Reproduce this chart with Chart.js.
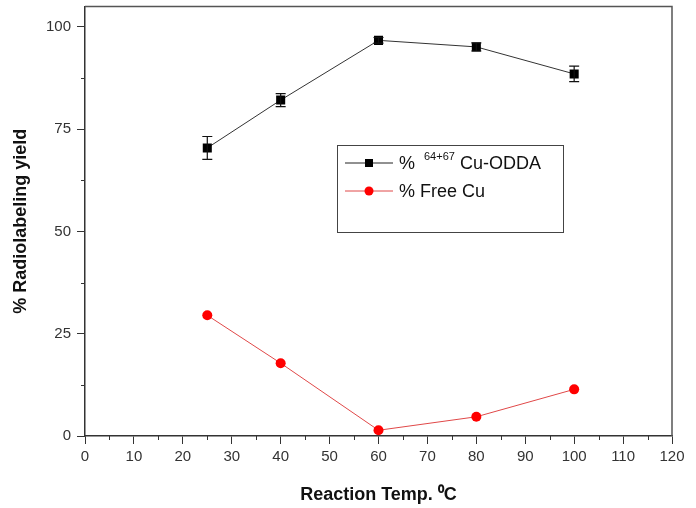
<!DOCTYPE html>
<html>
<head>
<meta charset="utf-8">
<script src="https://cdn.jsdelivr.net/npm/chart.js@4"></script>
<style>
  body { margin: 0; background: #fff; }
  canvas { display: block; }
</style>
</head>
<body>
<canvas id="chart" width="696" height="508"></canvas>
<script>
// reaction temperature (°C)
const temps = [25, 40, 60, 80, 100];
// % 64+67Cu-ODDA and its error bars
const cuOdda = [70.4, 82.1, 96.7, 95.1, 88.5];
const cuOddaErr = [2.8, 1.6, 0.7, 1.0, 1.9];
// % free Cu
const freeCu = [29.5, 17.8, 1.4, 4.7, 11.4];

const xTicks = [0, 10, 20, 30, 40, 50, 60, 70, 80, 90, 100, 110, 120];
const xMinor = [5, 15, 25, 35, 45, 55, 65, 75, 85, 95, 105, 115];
const yTicks = [0, 25, 50, 75, 100];
const yMinor = [12.5, 37.5, 62.5, 87.5];

const FONT = "'Liberation Sans', Arial, sans-serif";

const toPoints = (ys) => temps.map((t, i) => ({ x: t, y: ys[i] }));

// error bars for the Cu-ODDA series
const errorBars = {
  id: "errorBars",
  afterDatasetsDraw(chart) {
    const { ctx, scales } = chart;
    const meta = chart.getDatasetMeta(0);
    ctx.save();
    ctx.strokeStyle = "#111";
    ctx.lineWidth = 1.2;
    meta.data.forEach((pt, i) => {
      const x = pt.x;
      const yTop = scales.y.getPixelForValue(cuOdda[i] + cuOddaErr[i]);
      const yBot = scales.y.getPixelForValue(cuOdda[i] - cuOddaErr[i]);
      ctx.beginPath();
      ctx.moveTo(x, yTop); ctx.lineTo(x, yBot);
      ctx.moveTo(x - 5, yTop); ctx.lineTo(x + 5, yTop);
      ctx.moveTo(x - 5, yBot); ctx.lineTo(x + 5, yBot);
      ctx.stroke();
    });
    ctx.restore();
  },
};

// frame, minor ticks and the boxed legend
const extras = {
  id: "extras",
  afterDraw(chart) {
    const { ctx, chartArea: a, scales } = chart;
    ctx.save();
    ctx.strokeStyle = "#555";
    ctx.lineWidth = 1.5;
    ctx.beginPath();
    ctx.moveTo(a.left, a.top); ctx.lineTo(a.right, a.top); ctx.lineTo(a.right, a.bottom);
    ctx.stroke();

    ctx.strokeStyle = "#333";
    ctx.lineWidth = 1;
    ctx.beginPath();
    xMinor.forEach((v) => {
      const x = Math.round(scales.x.getPixelForValue(v)) + 0.5;
      ctx.moveTo(x, a.bottom); ctx.lineTo(x, a.bottom + 4);
    });
    yMinor.forEach((v) => {
      const y = Math.round(scales.y.getPixelForValue(v)) + 0.5;
      ctx.moveTo(a.left - 4, y); ctx.lineTo(a.left, y);
    });
    ctx.stroke();

    // legend
    ctx.strokeStyle = "#444";
    ctx.lineWidth = 1;
    ctx.strokeRect(337.5, 145.5, 226, 87);

    const rows = [
      { y: 163, color: "#222", marker: "rect" },
      { y: 191, color: "#e04848", marker: "circle" },
    ];
    rows.forEach((r) => {
      ctx.strokeStyle = r.color;
      ctx.beginPath();
      ctx.moveTo(345, r.y); ctx.lineTo(393, r.y);
      ctx.stroke();
      ctx.fillStyle = r.marker === "rect" ? "#000" : "#ff0000";
      if (r.marker === "rect") {
        ctx.fillRect(365, r.y - 4, 8, 8);
      } else {
        ctx.beginPath();
        ctx.arc(369, r.y, 4.5, 0, Math.PI * 2);
        ctx.fill();
      }
    });

    ctx.fillStyle = "#111";
    ctx.textBaseline = "middle";
    ctx.textAlign = "left";
    ctx.font = "18px " + FONT;
    ctx.fillText("%", 399, 164);
    ctx.fillText("Cu-ODDA", 460, 164);
    ctx.fillText("% Free Cu", 399, 192);
    ctx.font = "11px " + FONT;
    ctx.fillText("64+67", 424, 157);
    ctx.restore();
  },
};

new Chart(document.getElementById("chart"), {
  type: "scatter",
  data: {
    datasets: [
      {
        label: "% 64+67Cu-ODDA",
        data: toPoints(cuOdda),
        showLine: true,
        borderColor: "#333",
        borderWidth: 1,
        pointStyle: "rect",
        pointRadius: 6.4,
        pointBackgroundColor: "#000",
        pointBorderColor: "#000",
        pointBorderWidth: 0,
      },
      {
        label: "% Free Cu",
        data: toPoints(freeCu),
        showLine: true,
        borderColor: "#e04848",
        borderWidth: 1,
        pointStyle: "circle",
        pointRadius: 5,
        pointBackgroundColor: "#ff0000",
        pointBorderColor: "#ff0000",
        pointBorderWidth: 0,
      },
    ],
  },
  options: {
    responsive: false,
    animation: false,
    layout: { padding: { left: 0, top: 4, right: 24, bottom: 0 } },
    plugins: {
      legend: { display: false },
      tooltip: { enabled: false },
    },
    scales: {
      x: {
        type: "linear",
        min: 0,
        max: 120,
        afterFit: (s) => { s.height = 72; },
        afterBuildTicks: (s) => { s.ticks = xTicks.map((v) => ({ value: v })); },
        border: { color: "#333", width: 1.5 },
        grid: { drawOnChartArea: false, tickLength: 8, color: "#333" },
        ticks: { color: "#333", padding: 4, maxRotation: 0, font: { size: 15, family: FONT } },
        title: {
          display: true,
          text: "Reaction Temp. \u2070C",
          color: "#111",
          padding: { top: 0, bottom: 2 },
          font: { size: 18, weight: "bold", family: FONT },
        },
      },
      y: {
        min: 0,
        max: 105,
        afterFit: (s) => { s.width = 85; s.paddingTop = 0; s.paddingBottom = 0; },
        afterBuildTicks: (s) => { s.ticks = yTicks.map((v) => ({ value: v })); },
        border: { color: "#333", width: 1.5 },
        grid: { drawOnChartArea: false, tickLength: 8, color: "#333" },
        ticks: { color: "#333", padding: 6, font: { size: 15, family: FONT } },
        title: {
          display: true,
          text: "% Radiolabeling yield",
          color: "#111",
          padding: { top: 10, bottom: 0 },
          font: { size: 18, weight: "bold", family: FONT },
        },
      },
    },
  },
  plugins: [errorBars, extras],
});
</script>
</body>
</html>
